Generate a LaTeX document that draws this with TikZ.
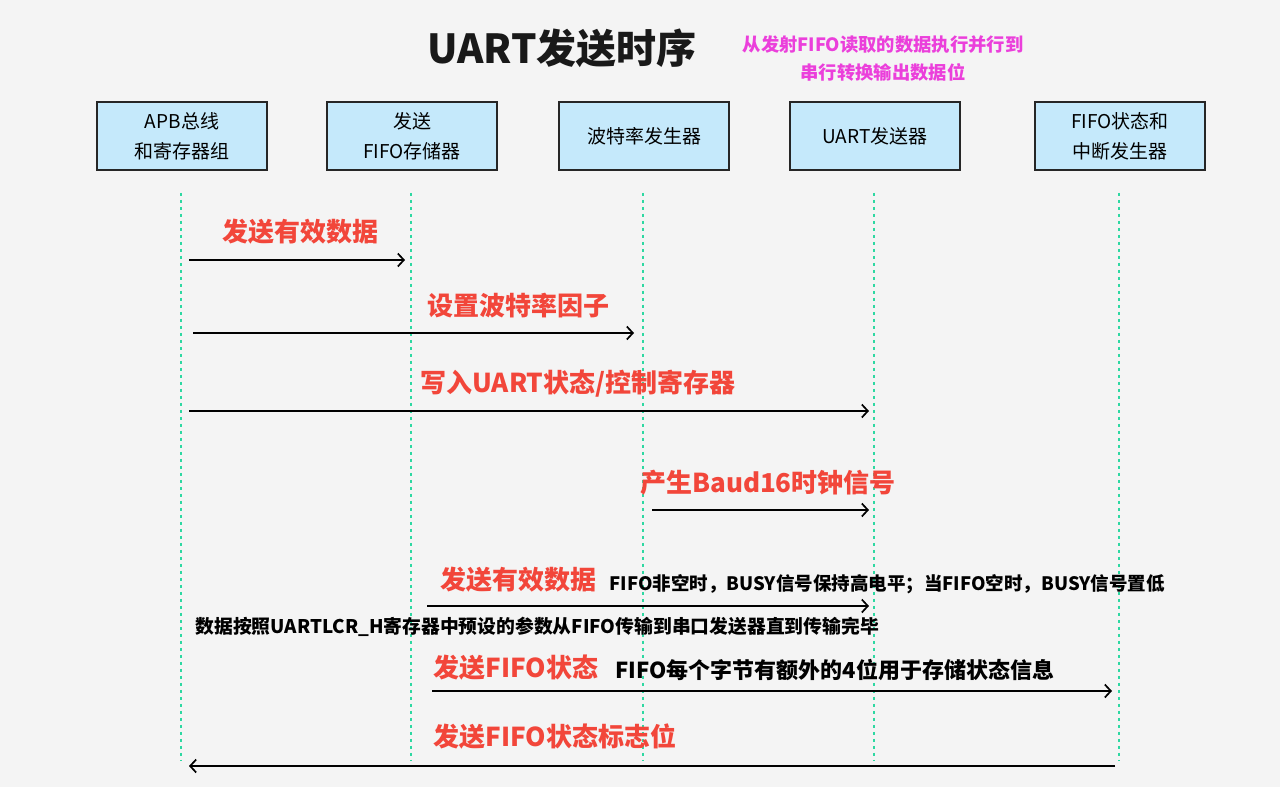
\documentclass[tikz,border=0pt]{standalone}
\usepackage{fontspec}
\setmainfont{Noto Sans CJK SC}
\usetikzlibrary{arrows.meta,positioning}
\definecolor{bgGray}{HTML}{F4F4F4}
\definecolor{boxBlue}{HTML}{C5E9FB}
\definecolor{lifeGreen}{HTML}{2ED8A2}
\definecolor{msgRed}{HTML}{F2463A}
\definecolor{notePink}{HTML}{EB3FDB}

\begin{document}
\begin{tikzpicture}[x=1pt,y=-1pt,
  every node/.style={font=\fontsize{19}{30}\selectfont},
  box/.style={draw=black!85,line width=1.6pt,fill=boxBlue,
              minimum width=170pt,minimum height=68pt,align=center},
  life/.style={lifeGreen,line width=1.3pt,dash pattern=on 3.5pt off 3.5pt},
  msg/.style={line width=1.7pt,-{Straight Barb[length=6pt,width=13pt]}},
  lbl/.style={msgRed,font=\fontsize{26}{30}\selectfont\bfseries},
  note/.style={anchor=west,font=\fontsize{18.8}{24}\selectfont\bfseries}
]
  \useasboundingbox (0,0) rectangle (1280,796);
  \fill[bgGray] (0,0) rectangle (1280,787);

  % title and remark
  \node[font=\fontsize{40}{44}\selectfont\bfseries,black!90] (title) at (562,48) {UART发送时序};
  \node[notePink,align=center,font=\fontsize{18.3}{28}\selectfont\bfseries] (remark) at (883,59)
    {从发射FIFO读取的数据执行并行到\\串行转换输出数据位};

  % participants
  \node[box] (apb)  at (182,136) {APB总线\\和寄存器组};
  \node[box] (fifo) at (412,136) {发送\\FIFO存储器};
  \node[box] (baud) at (644,136) {波特率发生器};
  \node[box] (tx)   at (875,136) {UART发送器};
  \node[box] (intr) at (1120,136) {FIFO状态和\\中断发生器};

  % lifelines
  \coordinate (bot) at (0,760);
  \foreach \p in {apb,fifo,baud,tx,intr}
    \draw[life] ([xshift=-1pt,yshift=-22pt]\p.south) -- ([xshift=-1pt]\p.south |- bot);

  % message ends
  \coordinate (m1s) at (189,260);  \coordinate (m1e) at (405,260);
  \coordinate (m2s) at (193,333);  \coordinate (m2e) at (634,333);
  \coordinate (m3s) at (189,411);  \coordinate (m3e) at (869,411);
  \coordinate (m4s) at (652,510);  \coordinate (m4e) at (869,510);
  \coordinate (m5s) at (427,606);  \coordinate (m5e) at (869,606);
  \coordinate (m6s) at (432,691);  \coordinate (m6e) at (1112,691);
  \coordinate (m7s) at (1115,766); \coordinate (m7e) at (189,766);

  \draw[msg] (m1s) -- (m1e);
  \draw[msg] (m2s) -- (m2e);
  \draw[msg] (m3s) -- (m3e);
  \draw[msg] (m4s) -- (m4e);
  \draw[msg] (m5s) -- (m5e);
  \draw[msg] (m6s) -- (m6e);
  \draw[msg] (m7s) -- (m7e);

  % message labels
  \node[lbl] (l1) at (300,232) {发送有效数据};
  \node[lbl] (l2) at (518,306) {设置波特率因子};
  \node[lbl] (l3) at (578,384) {写入UART状态/控制寄存器};
  \node[lbl] (l4) at (768,483) {产生Baud16时钟信号};
  \node[lbl] (l5) at (518,580) {发送有效数据};
  \node[lbl] (l6) at (516,668) {发送FIFO状态};
  \node[lbl] (l7) at (555,737) {发送FIFO状态标志位};

  % notes
  \node[note,font=\fontsize{18.5}{24}\selectfont\bfseries] (n1) at (606,584) {FIFO非空时，BUSY信号保持高电平；当FIFO空时，BUSY信号置低};
  \node[note] (n2) at (192,627) {数据按照UARTLCR\_H寄存器中预设的参数从FIFO传输到串口发送器直到传输完毕};
  \node[note,font=\fontsize{22}{26}\selectfont\bfseries] (n3) at (612,670) {FIFO每个字节有额外的4位用于存储状态信息};
\end{tikzpicture}
\end{document}
